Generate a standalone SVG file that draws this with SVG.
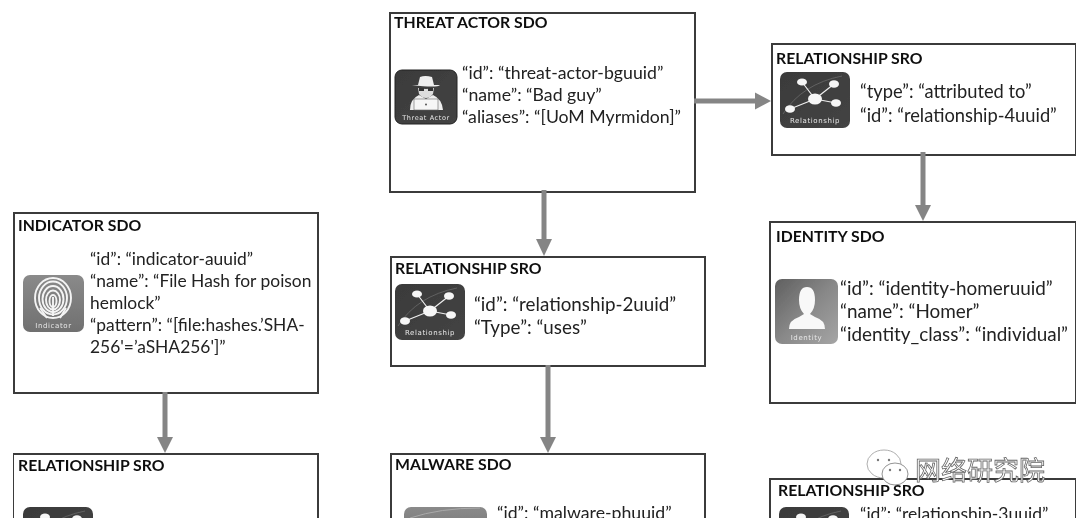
<svg xmlns="http://www.w3.org/2000/svg" xmlns:xlink="http://www.w3.org/1999/xlink" width="1080" height="518" viewBox="0 0 1080 518">
<style>
.box{fill:#fff;stroke:#3a3a3a;stroke-width:2}
.title{font-family:"Lato","Liberation Sans",sans-serif;font-weight:700;font-size:15.8px;fill:#111}
.body{font-family:"Lato","Liberation Sans",sans-serif;fill:#222}
.cap{font-family:"DejaVu Sans",sans-serif;font-size:7px;fill:#e8e8e8;text-anchor:middle;letter-spacing:.6px}
.conn{stroke:#858585;stroke-width:5;fill:none}
.head{fill:#858585}
.wm{font-family:"Noto Sans CJK SC",sans-serif;font-size:26px;fill:#fff;stroke:#666;stroke-width:.8}
</style>
<defs>
<filter id="soft" x="0" y="0" width="100%" height="100%"><feGaussianBlur stdDeviation="0.4"/></filter>
<linearGradient id="dark" x1="0" y1="0" x2="1" y2="1"><stop offset="0" stop-color="#3a3a3a"/><stop offset="1" stop-color="#444"/></linearGradient>
<linearGradient id="mid" x1="0" y1="0" x2="0" y2="1"><stop offset="0" stop-color="#8a8a8a"/><stop offset="1" stop-color="#707070"/></linearGradient>
<linearGradient id="idn" x1="0" y1="0" x2="1" y2="1"><stop offset="0" stop-color="#5f5f5f"/><stop offset="0.5" stop-color="#888"/><stop offset="1" stop-color="#a5a5a5"/></linearGradient>
<g id="relicon">
<rect width="70" height="56" rx="7" fill="url(#dark)"/>
<path d="M3 42Q22 12 62 4" fill="none" stroke="#6a6a6a" stroke-width=".8"/>
<path d="M35 27L22 10M35 27L54 12M35 27L56 31M35 27L10 37" stroke="#eee" stroke-width="1.2"/>
<ellipse cx="35" cy="27" rx="7" ry="5.500" fill="#f6f6f6"/>
<ellipse cx="22" cy="10" rx="5" ry="3.600" fill="#f6f6f6"/>
<ellipse cx="54" cy="12" rx="5" ry="3.800" fill="#f6f6f6"/>
<ellipse cx="56" cy="31" rx="5" ry="3.800" fill="#f6f6f6"/>
<ellipse cx="10" cy="37" rx="5" ry="3.800" fill="#f6f6f6"/>
<text x="35" y="51" class="cap">Relationship</text>
</g>
</defs>

<g filter="url(#soft)">
<g id="threat-actor" font-size="17.7">
<rect class="box" x="390" y="13" width="305" height="179"/>
<text class="title" x="394" y="28">THREAT ACTOR SDO</text>
<rect x="395" y="70" width="62" height="54" rx="7" fill="url(#dark)" stroke="#222"/>
<path d="M412 85h6l2-8q5-2 12 0l2 8h6q-3 3-28 0Z" fill="#eee"/>
<path d="M418 88q8 2 16 0l-1 6q-3 4-7 4t-7-4Z" fill="#ddd"/>
<path d="M419 88h5v3h-5ZM428 88h5v3h-5Z" fill="#333"/>
<path d="M410 110q0-11 9-15l7 4 7-4q9 4 10 15Z" fill="#eee"/>
<rect x="414" y="99" width="24" height="11" fill="#f6f6f6" stroke="#666" stroke-width=".6"/>
<circle cx="426" cy="104.500" r="1" fill="#555"/>
<text x="426" y="119.500" class="cap" style="font-size:6.500px">Threat Actor</text>
<text class="body" x="462" y="78.500">“id”: “threat-actor-bguuid”</text>
<text class="body" x="462" y="100.500">“name”: “Bad guy”</text>
<text class="body" x="462" y="122.500">“aliases”: “[UoM Myrmidon]”</text>
</g>

<g id="relationship-4" font-size="18.3">
<rect class="box" x="772" y="44" width="304" height="111"/>
<text class="title" x="776" y="63.500">RELATIONSHIP SRO</text>
<use xlink:href="#relicon" href="#relicon" x="780" y="72"/>
<text class="body" x="860" y="98">“type”: “attributed to”</text>
<text class="body" x="860" y="121.500">“id”: “relationship-4uuid”</text>
</g>

<g id="identity" font-size="18.9">
<rect class="box" x="770" y="222" width="306" height="181"/>
<text class="title" x="776" y="241.500">IDENTITY SDO</text>
<rect x="775" y="279" width="63" height="65" rx="7" fill="url(#idn)"/>
<path d="M789 329q0-9 10-12l5-3q-5-5-5-14q0-13 8-13t8 13q0 9-5 14l5 3q10 3 10 12Z" fill="#f8f8f8"/>
<text x="806.500" y="339.500" class="cap">Identity</text>
<text class="body" x="840" y="294.500">“id”: “identity-homeruuid”</text>
<text class="body" x="840" y="317.500">“name”: “Homer”</text>
<text class="body" x="840" y="340.500">“identity_class”: “individual”</text>
</g>

<g id="indicator" font-size="17.4">
<rect class="box" x="14" y="213" width="304" height="180"/>
<text class="title" x="18" y="230.500">INDICATOR SDO</text>
<rect x="23" y="275" width="61" height="57" rx="7" fill="url(#mid)"/>
<g fill="none" stroke="#f4f4f4" stroke-width="1.900">
<ellipse cx="53" cy="298" rx="18" ry="20"/><ellipse cx="53" cy="298" rx="14" ry="16.500"/><ellipse cx="53" cy="299" rx="10.500" ry="13"/><ellipse cx="53" cy="300" rx="7" ry="9.500"/><ellipse cx="53" cy="301" rx="3.500" ry="6"/><path d="M53 297V316M40 308L47 318M66 308L60 318"/>
</g>
<text x="53.500" y="328" class="cap">Indicator</text>
<text class="body" x="90" y="264.500">“id”: “indicator-auuid”</text>
<text class="body" x="90" y="287">“name”: “File Hash for poison</text>
<text class="body" x="90" y="309">hemlock”</text>
<text class="body" x="90" y="331">“pattern”: “[file:hashes.’SHA-</text>
<text class="body" x="90" y="353">256'=’aSHA256']”</text>
</g>

<g id="relationship-2" font-size="18.8">
<rect class="box" x="391" y="257" width="314" height="109"/>
<text class="title" x="395" y="274">RELATIONSHIP SRO</text>
<use xlink:href="#relicon" href="#relicon" x="395" y="284"/>
<text class="body" x="474" y="310.500">“id”: “relationship-2uuid”</text>
<text class="body" x="474" y="333.500">“Type”: “uses”</text>
</g>

<g id="relationship-1">
<rect class="box" x="13" y="454" width="305" height="80"/>
<text class="title" x="18" y="470.500">RELATIONSHIP SRO</text>
<use xlink:href="#relicon" href="#relicon" x="23" y="507"/>
</g>

<g id="malware" font-size="17.7">
<rect class="box" x="391" y="454" width="314" height="80"/>
<text class="title" x="395" y="470">MALWARE SDO</text>
<rect x="404" y="507" width="83" height="40" rx="7" fill="url(#mid)"/>
<path d="M410 518q30-10 70-10" fill="none" stroke="#aaa" stroke-width="1"/>
<text class="body" x="497" y="519">“id”: “malware-phuuid”</text>
</g>

<g id="relationship-3" font-size="17.5">
<rect class="box" x="770" y="479" width="306" height="60"/>
<text class="title" x="778" y="496">RELATIONSHIP SRO</text>
<use xlink:href="#relicon" href="#relicon" x="779" y="507"/>
<text class="body" x="860" y="520">“id”: “relationship-3uuid”</text>
</g>

<g id="connectors">
<path class="conn" d="M694 101H757"/><path class="head" d="M771 101L755 92.500V109.500Z"/>
<path class="conn" d="M923 152V207"/><path class="head" d="M923 221L915 205H931Z"/>
<path class="conn" d="M544 190V241"/><path class="head" d="M544 256L536 239H552Z"/>
<path class="conn" d="M548 365V439"/><path class="head" d="M548 453L540 437H556Z"/>
<path class="conn" d="M165 392V439"/><path class="head" d="M165 453L157 437H173Z"/>
</g>

<g id="watermark">
<ellipse cx="884" cy="464" rx="17" ry="14" fill="#fff" stroke="#999" stroke-width=".8"/>
<circle cx="878" cy="460" r="1.200" fill="#777"/><circle cx="889" cy="460" r="1.200" fill="#777"/>
<ellipse cx="895" cy="474" rx="13" ry="11" fill="#fff" stroke="#777" stroke-width=".8"/>
<circle cx="890" cy="470" r="1.200" fill="#777"/><circle cx="900" cy="470" r="1.200" fill="#777"/>
<text class="wm" x="915" y="480" textLength="130">网络研究院</text>
</g>
</g>
</svg>
